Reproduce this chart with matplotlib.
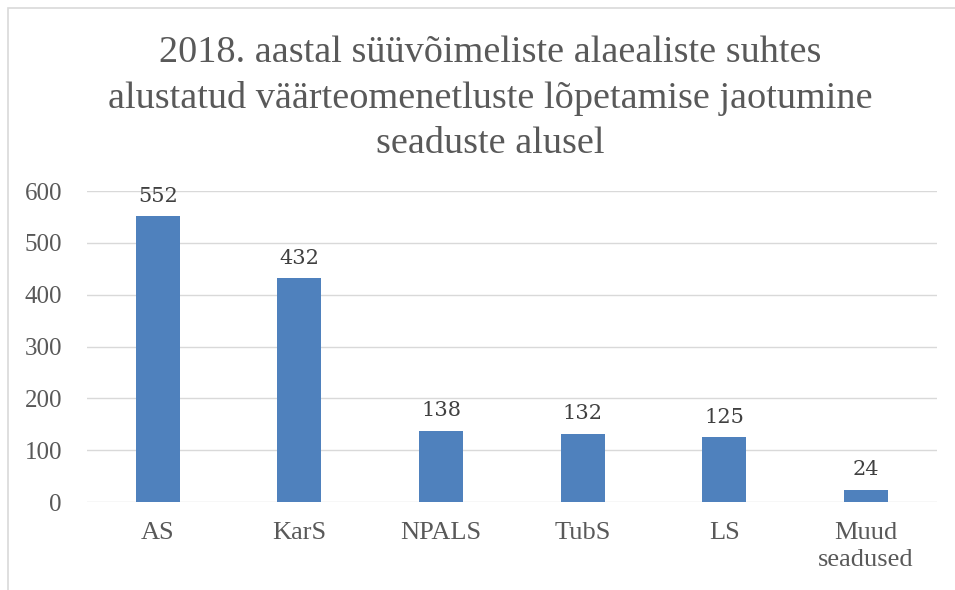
import matplotlib.pyplot as plt
from matplotlib.patches import Rectangle

# andmed
seadused = ['AS', 'KarS', 'NPALS', 'TubS', 'LS', 'Muud\nseadused']
arvud = [552, 432, 138, 132, 125, 24]
pealkiri = ('2018. aastal süüvõimeliste alaealiste suhtes\n'
            'alustatud väärteomenetluste lõpetamise jaotumine\n'
            'seaduste alusel')

plt.rcParams['font.family'] = ['Liberation Serif', 'DejaVu Serif']

fig = plt.figure(figsize=(9.55, 5.9), dpi=100)
ax = fig.add_axes([0.091, 0.149, 0.890, 0.527])

x = range(len(seadused))
ax.bar(x, arvud, width=0.31, color='#4F81BD', zorder=3)
for i, v in zip(x, arvud):
    ax.text(i, v + 20, str(v), ha='center', va='bottom', fontsize=15,
            color='#404040', family=['DejaVu Serif'])

ax.set_xlim(-0.5, len(seadused) - 0.5)
ax.set_ylim(0, 600)
ax.set_yticks(range(0, 601, 100))
ax.set_xticks(list(x))
ax.set_xticklabels(seadused, fontsize=19, color='#595959', linespacing=1.3)
ax.tick_params(axis='y', labelsize=18, labelcolor='#595959', length=0, pad=18)
ax.tick_params(axis='x', length=0, pad=14)
ax.grid(axis='y', color='#D9D9D9', linewidth=1, zorder=0)
for s in ax.spines.values():
    s.set_visible(False)

fig.text(0.513, 0.94, pealkiri, ha='center', va='top', fontsize=27.5,
         color='#595959', linespacing=1.4)

# diagrammi raam
fig.patches.append(Rectangle((8 / 955, -0.1), 1.2, 1 - 8 / 590 + 0.1,
                             transform=fig.transFigure, fill=False,
                             edgecolor='#D9D9D9', linewidth=1.2))

fig.savefig('out.png')
